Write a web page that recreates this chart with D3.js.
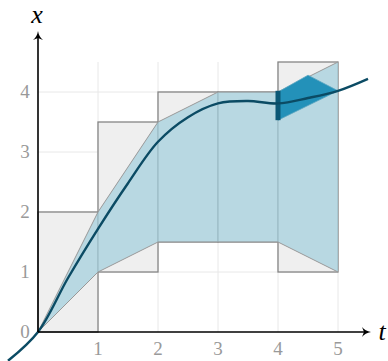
<!DOCTYPE html>
<html><head><meta charset="utf-8">
<script src="https://cdn.jsdelivr.net/npm/d3@7"></script>
<style>
body{margin:0;background:#fff}
svg{display:block}
svg text{font-family:"Liberation Serif","Times New Roman",serif}
</style>
</head><body>
<svg id="c" width="388" height="361"></svg>
<script>
// Data
const tTicks = [1, 2, 3, 4, 5];
const xTicks = [1, 2, 3, 4];
// boxes: [t0, t1, xLow, xHigh]
const boxT0 = [0, 1, 2, 3, 4];
const boxT1 = [1, 2, 3, 4, 5];
const boxLow = [0, 1, 1.5, 1.5, 1];
const boxHigh = [2, 3.5, 4, 4, 4.5];
// enclosure band
const bandT = [0, 1, 2, 3, 4, 5];
const bandUpper = [0, 2, 3.5, 4, 4, 4.5];
const bandLower = [0, 1, 1.5, 1.5, 1.5, 1];
// dark polygon at last step
const darkT = [4, 4.5, 5, 4];
const darkX = [4.0, 4.28, 4.02, 3.53];
// dark bar at t=4
const barT = 4, barLow = 3.53, barHigh = 4.02;
// solution curve
const curveT = [-0.5, 0, 0.5, 1, 1.5, 2, 2.5, 3, 3.5, 4, 4.5, 5, 5.5];
const curveX = [-0.48, 0, 0.9, 1.72, 2.48, 3.17, 3.58, 3.81, 3.85, 3.81, 3.9, 4.02, 4.22];

const svg = d3.select("#c");
const sx = d3.scaleLinear().domain([0, 5]).range([38, 338]);
const sy = d3.scaleLinear().domain([0, 4]).range([332, 92]);

// grid
const g = svg.append("g");
g.selectAll(".vg").data(tTicks).join("line")
  .attr("x1", d => sx(d)).attr("x2", d => sx(d))
  .attr("y1", sy(0)).attr("y2", sy(4.5))
  .attr("stroke", "#e8e8e8").attr("stroke-width", 1);
g.selectAll(".hg").data(xTicks).join("line")
  .attr("x1", sx(0)).attr("x2", sx(5))
  .attr("y1", d => sy(d)).attr("y2", d => sy(d))
  .attr("stroke", "#e8e8e8").attr("stroke-width", 1);

// boxes
svg.append("g").selectAll("rect").data(boxT0.map((d, i) => i)).join("rect")
  .attr("x", i => sx(boxT0[i])).attr("width", i => sx(boxT1[i]) - sx(boxT0[i]))
  .attr("y", i => sy(boxHigh[i])).attr("height", i => sy(boxLow[i]) - sy(boxHigh[i]))
  .attr("fill", "#efefef").attr("stroke", "#858585").attr("stroke-width", 1.3);

// band
const bandPts = bandT.map((t, i) => [sx(t), sy(bandUpper[i])])
  .concat(bandT.map((t, i) => [sx(t), sy(bandLower[i])]).reverse());
svg.append("path").attr("d", d3.line()(bandPts) + "Z")
  .attr("fill", "rgb(166,208,222)").attr("fill-opacity", 0.75).attr("stroke", "none");
const lineGen = d3.line();
svg.append("path").attr("d", lineGen(bandT.map((t, i) => [sx(t), sy(bandUpper[i])])))
  .attr("fill", "none").attr("stroke", "#999").attr("stroke-width", 1);
svg.append("path").attr("d", lineGen(bandT.map((t, i) => [sx(t), sy(bandLower[i])])))
  .attr("fill", "none").attr("stroke", "#999").attr("stroke-width", 1);

// dark polygon
svg.append("path").attr("d", d3.line()(darkT.map((t, i) => [sx(t), sy(darkX[i])])) + "Z")
  .attr("fill", "#2391b9").attr("stroke", "#5aa6c0").attr("stroke-width", 0.8);

// dark bar
svg.append("line").attr("x1", sx(barT)).attr("x2", sx(barT))
  .attr("y1", sy(barLow)).attr("y2", sy(barHigh))
  .attr("stroke", "#0b5775").attr("stroke-width", 5);

// curve
svg.append("path")
  .attr("d", d3.line().curve(d3.curveCatmullRom.alpha(0.5))(curveT.map((t, i) => [sx(t), sy(curveX[i])])))
  .attr("fill", "none").attr("stroke", "#0b4b64").attr("stroke-width", 2.4);

// axes
const ax = svg.append("g");
ax.append("line").attr("x1", sx(0)).attr("x2", 367).attr("y1", sy(0)).attr("y2", sy(0))
  .attr("stroke", "#000").attr("stroke-width", 1.6);
ax.append("line").attr("x1", sx(0)).attr("x2", sx(0)).attr("y1", sy(0)).attr("y2", 35)
  .attr("stroke", "#000").attr("stroke-width", 1.6);
// arrowheads
const ox = 371, oy = sy(0);
ax.append("path")
  .attr("d", `M${ox},${oy} Q${ox - 6},${oy - 1} ${ox - 9},${oy - 5} L${ox - 7},${oy} L${ox - 9},${oy + 5} Q${ox - 6},${oy + 1} ${ox},${oy} Z`)
  .attr("fill", "#000");
const ux = sx(0), uy = 31;
ax.append("path")
  .attr("d", `M${ux},${uy} Q${ux - 1},${uy + 6} ${ux - 5},${uy + 9} L${ux},${uy + 7} L${ux + 5},${uy + 9} Q${ux + 1},${uy + 6} ${ux},${uy} Z`)
  .attr("fill", "#000");

// tick labels
svg.append("g").selectAll("text").data(tTicks).join("text")
  .attr("x", d => sx(d)).attr("y", sy(0) + 23)
  .attr("text-anchor", "middle").attr("font-family", "Liberation Serif").attr("font-size", 19)
  .attr("fill", "#999").text(d => d);
svg.append("g").selectAll("text").data([0].concat(xTicks)).join("text")
  .attr("x", sx(0) - 13).attr("y", d => sy(d) + 6)
  .attr("text-anchor", "middle").attr("font-family", "Liberation Serif").attr("font-size", 19)
  .attr("fill", "#999").text(d => d);

// axis titles
svg.append("text").attr("x", 382).attr("y", 340).attr("text-anchor", "middle")
  .attr("font-family", "Liberation Serif").attr("font-style", "italic").attr("font-size", 26).text("t");
svg.append("text").attr("x", sx(0) - 1).attr("y", 23).attr("text-anchor", "middle")
  .attr("font-family", "Liberation Serif").attr("font-style", "italic").attr("font-size", 26).text("x");
</script>
</body></html>
